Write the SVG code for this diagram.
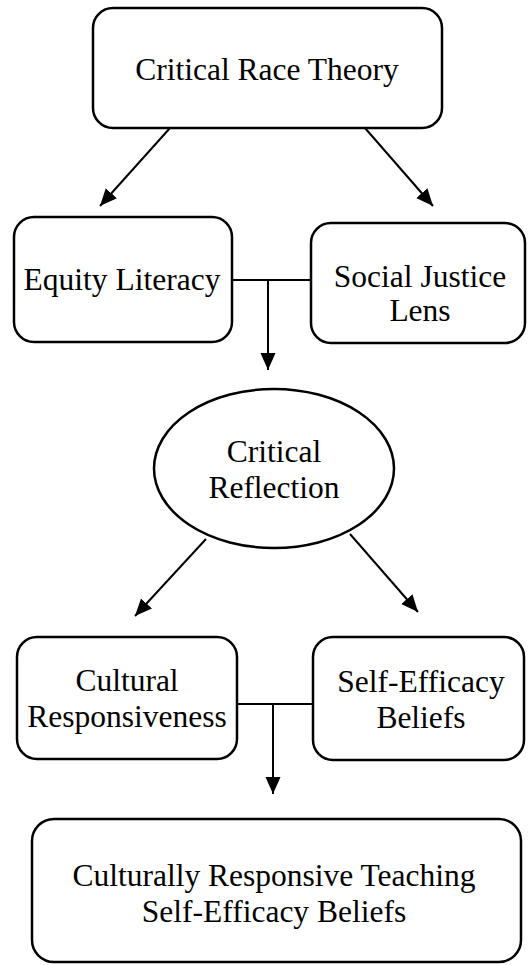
<svg xmlns="http://www.w3.org/2000/svg" width="528" height="965" viewBox="0 0 528 965">
  <style>
    .box { fill: #ffffff; stroke: #000000; stroke-width: 2.5; }
    .lbl { font-size: 31.5px; fill: #000000; text-anchor: middle; }
    .link { fill: none; stroke: #000000; stroke-width: 2; }
  </style>
  <defs>
    <marker id="arrow" markerUnits="userSpaceOnUse" markerWidth="18" markerHeight="16" refX="17" refY="7.5" orient="auto">
      <path d="M0,0 L17,7.5 L0,15 z" fill="#000000"/>
    </marker>
  </defs>

  <rect width="528" height="965" fill="#ffffff"/>

  <!-- connectors -->
  <g id="connectors">
    <line class="link" x1="170" y1="128" x2="100" y2="206" marker-end="url(#arrow)"/>
    <line class="link" x1="365" y1="128" x2="433" y2="206" marker-end="url(#arrow)"/>
    <line class="link" x1="232" y1="280" x2="311" y2="280"/>
    <line class="link" x1="268" y1="280" x2="268" y2="370" marker-end="url(#arrow)"/>
    <line class="link" x1="206" y1="539" x2="135" y2="616" marker-end="url(#arrow)"/>
    <line class="link" x1="350" y1="534" x2="418" y2="612" marker-end="url(#arrow)"/>
    <line class="link" x1="237" y1="704" x2="313" y2="704"/>
    <line class="link" x1="273" y1="704" x2="273" y2="794" marker-end="url(#arrow)"/>
  </g>

  <!-- nodes -->
  <g id="nodes" font-family="Liberation Serif, Times New Roman, Times, serif">
    <g id="critical-race-theory">
      <rect class="box" x="93" y="8" width="349" height="120" rx="20" ry="20"/>
      <text class="lbl" x="267" y="80">Critical Race Theory</text>
    </g>

    <g id="equity-literacy">
      <rect class="box" x="14" y="217" width="218" height="125" rx="20" ry="20"/>
      <text class="lbl" x="122" y="290">Equity Literacy</text>
    </g>

    <g id="social-justice-lens">
      <rect class="box" x="311" y="223" width="214" height="120" rx="20" ry="20"/>
      <text class="lbl" x="420" y="287">Social Justice</text>
      <text class="lbl" x="420" y="321">Lens</text>
    </g>

    <g id="critical-reflection">
      <ellipse class="box" cx="274" cy="468.5" rx="120" ry="79.5"/>
      <text class="lbl" x="274" y="462">Critical</text>
      <text class="lbl" x="274" y="498">Reflection</text>
    </g>

    <g id="cultural-responsiveness">
      <rect class="box" x="17" y="637" width="220" height="122" rx="20" ry="20"/>
      <text class="lbl" x="127" y="691">Cultural</text>
      <text class="lbl" x="127" y="727">Responsiveness</text>
    </g>

    <g id="self-efficacy-beliefs">
      <rect class="box" x="313" y="637" width="211" height="123" rx="20" ry="20"/>
      <text class="lbl" x="421" y="692">Self-Efficacy</text>
      <text class="lbl" x="421" y="728">Beliefs</text>
    </g>

    <g id="crt-self-efficacy">
      <rect class="box" x="32" y="819" width="489" height="143" rx="22" ry="22"/>
      <text class="lbl" x="274" y="886">Culturally Responsive Teaching</text>
      <text class="lbl" x="274" y="922">Self-Efficacy Beliefs</text>
    </g>
  </g>
</svg>
